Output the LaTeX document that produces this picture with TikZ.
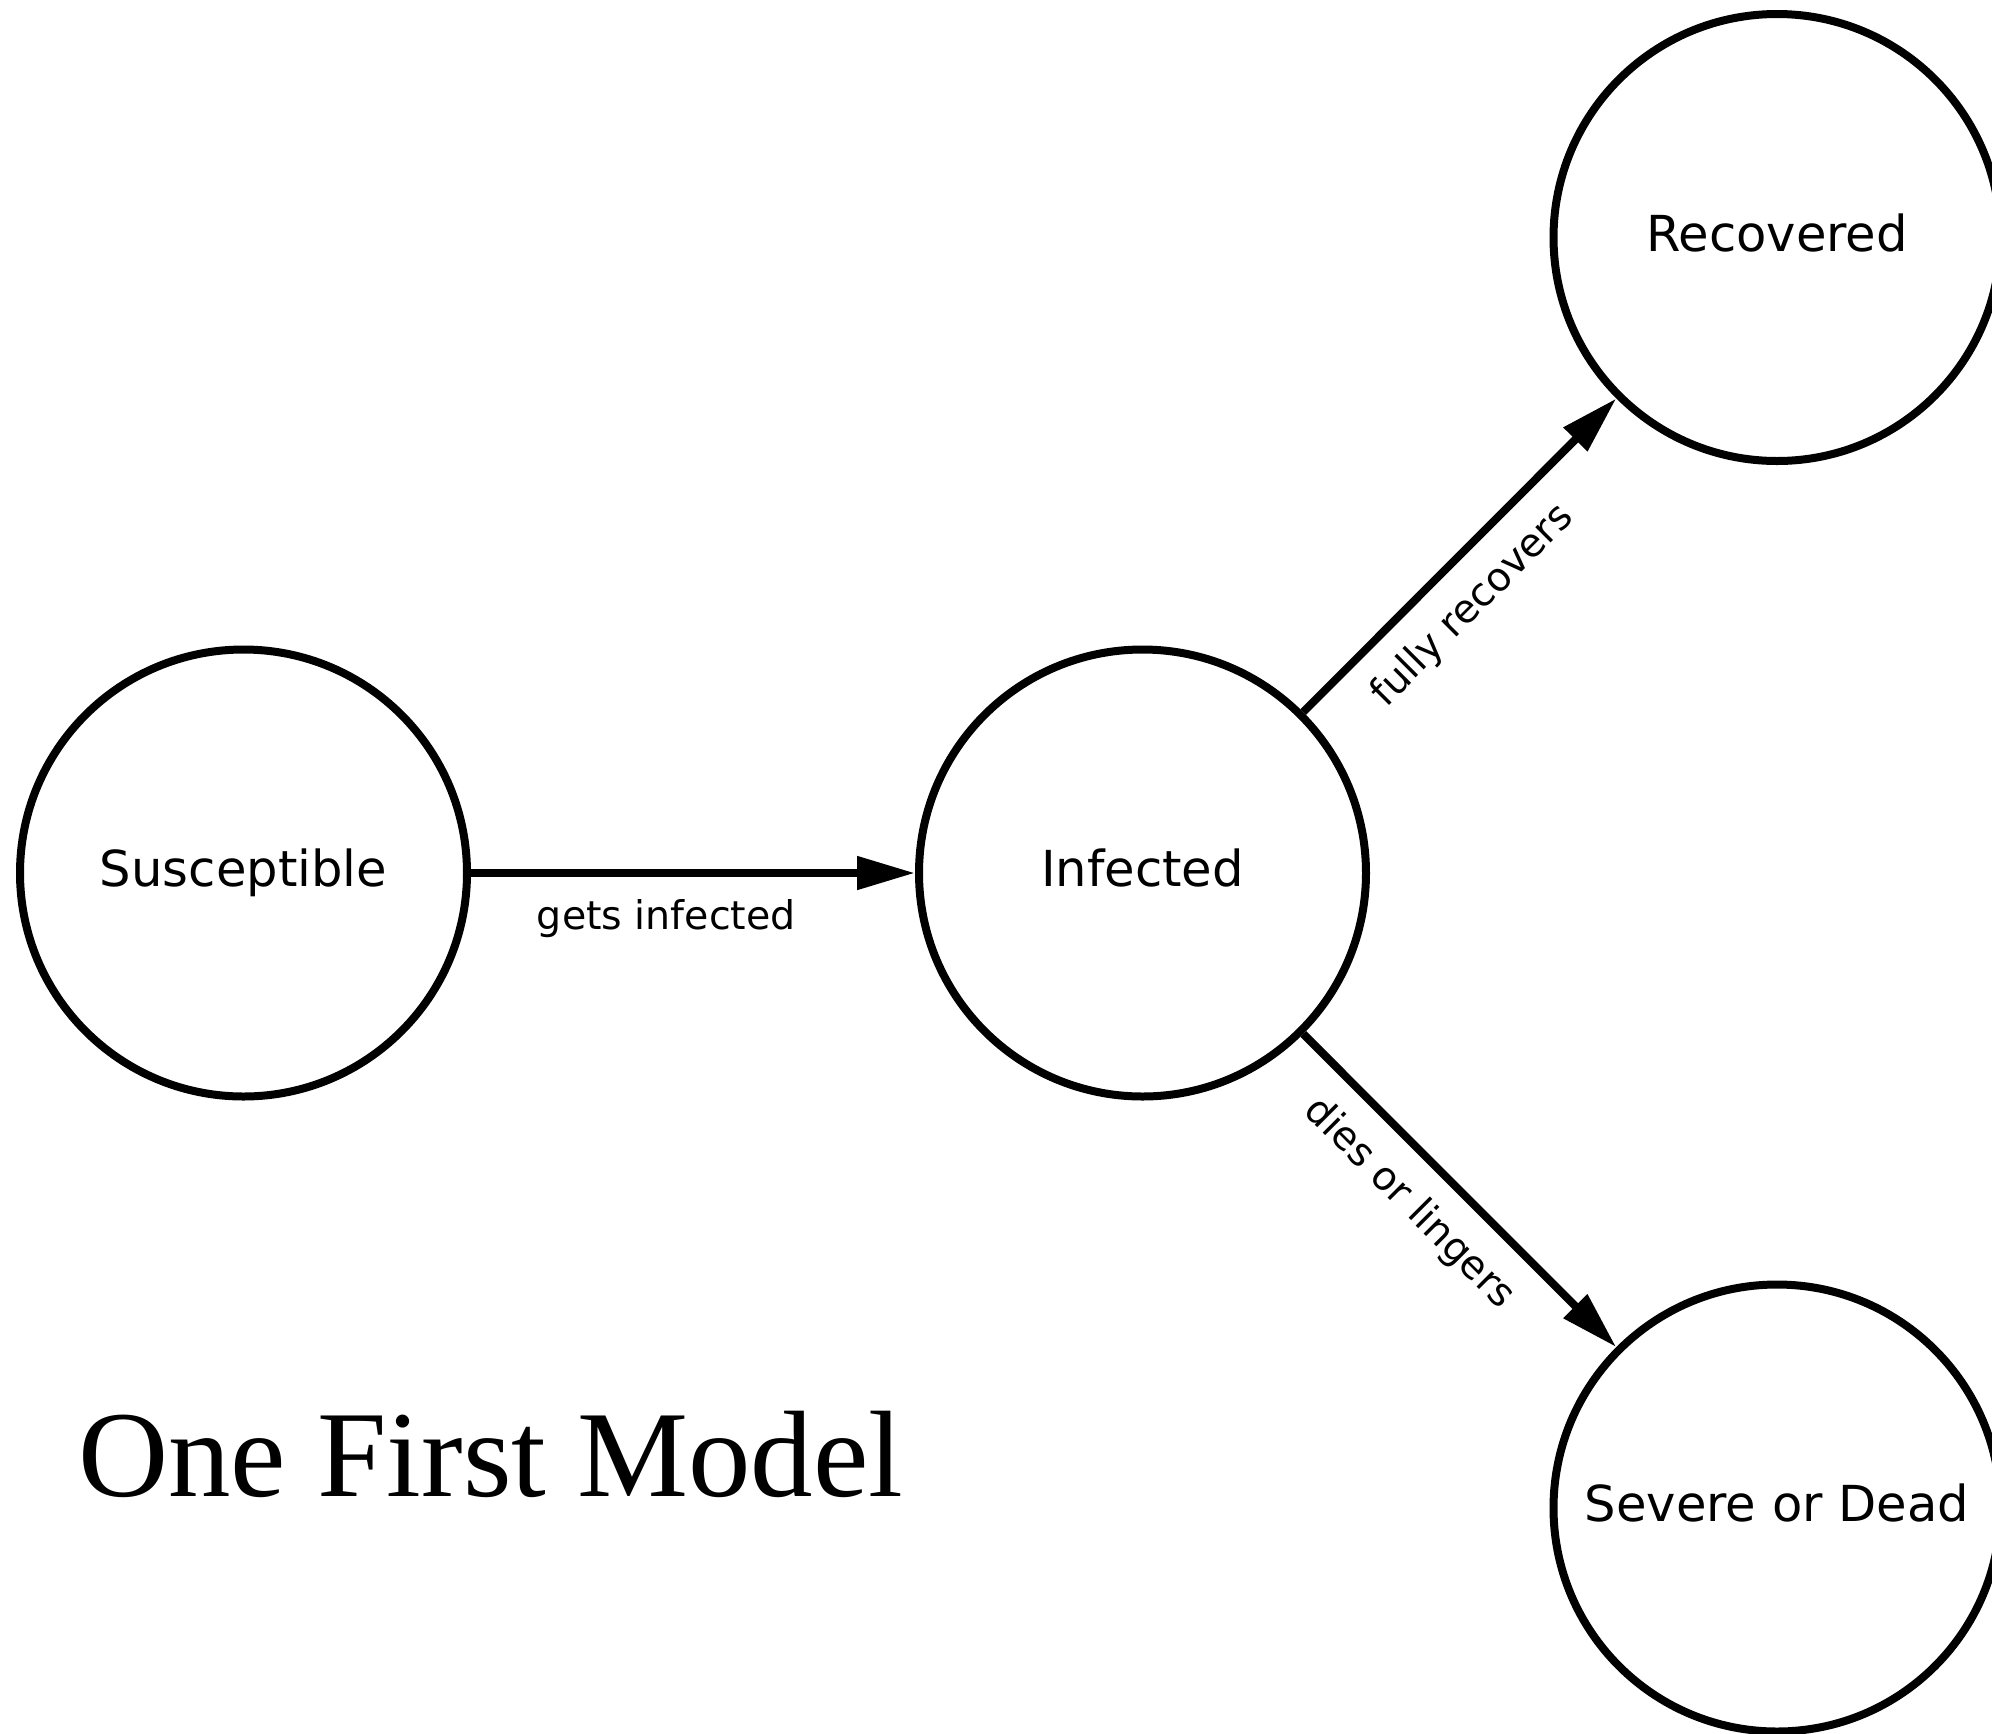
\documentclass[tikz,border=0pt]{standalone}
\usepackage{fontspec}
\usetikzlibrary{arrows.meta}
\newfontfamily\labelfont{DejaVu Sans}
\newfontfamily\titlefont{Liberation Serif}

\begin{document}
\begin{tikzpicture}[x=1pt,y=-1pt,
  state/.style={circle, draw=black, line width=8pt, fill=white,
    minimum size=447pt, inner sep=0pt,
    font=\labelfont\fontsize{49.6}{58}\selectfont,
    text height=38pt, text depth=11pt},
  flow/.style={draw=black, line width=8pt,
    -{Triangle[length=58pt,width=32pt]}},
  flowlabel/.style={pos=0.44, sloped, anchor=north, inner sep=0pt,
    outer ysep=26pt, font=\labelfont\fontsize{39.5}{46}\selectfont}
]
  % page area
  \fill[white] (0,0) rectangle (1992,1733);
  \clip (0,0) rectangle (1992,1733);

  % compartments
  \node[state] (sus) at (243.5,873)  {Susceptible};
  \node[state] (inf) at (1142.5,873) {Infected};
  \node[state] (rec) at (1777,237.5) {Recovered};
  \node[state] (sev) at (1777,1508)  {Severe or Dead};

  % transitions
  \draw[flow] (sus) -- node[flowlabel] {gets infected} (inf);
  \draw[flow] (inf) -- node[flowlabel] {fully recovers} (rec);
  \draw[flow] (inf) -- node[flowlabel] {dies or lingers} (sev);

  % title
  \node[anchor=base west, inner sep=0pt, xscale=1.015,
        font=\titlefont\fontsize{123}{140}\selectfont]
        (title) at (78,1496) {One First Model};
\end{tikzpicture}
\end{document}
